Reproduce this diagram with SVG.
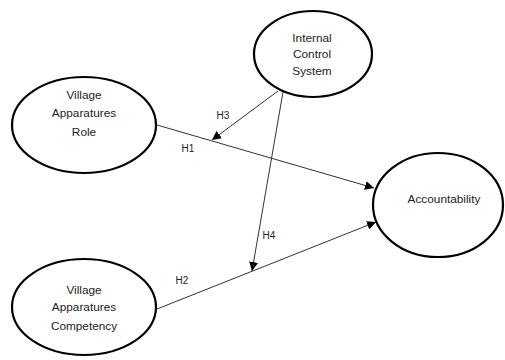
<svg xmlns="http://www.w3.org/2000/svg" width="505" height="360" viewBox="0 0 505 360">
<defs>
<style>
.node ellipse{fill:#fff;stroke:#000;stroke-width:2.2}
.node text{font-family:"Liberation Sans",Arial,sans-serif;font-size:11.8px;fill:#222;text-anchor:middle}
.edges line{stroke:#333;stroke-width:1}
.lbl{font-family:"Liberation Sans",Arial,sans-serif;font-size:10px;fill:#222;text-anchor:middle}
</style>
<marker id="arr" viewBox="0 0 10 10" refX="10" refY="5" markerWidth="9" markerHeight="9" markerUnits="userSpaceOnUse" orient="auto">
<path d="M0,0 L10,5 L0,10 Z" fill="#000"/>
</marker>
</defs>
<rect width="505" height="360" fill="#fff"/>
<g class="edges">
<line x1="157" y1="125" x2="374" y2="188" marker-end="url(#arr)"/>
<line x1="278" y1="91" x2="212" y2="140" marker-end="url(#arr)"/>
<line x1="283" y1="92" x2="252" y2="271" marker-end="url(#arr)"/>
<line x1="157" y1="309" x2="376" y2="222" marker-end="url(#arr)"/>
<text class="lbl" x="223" y="119">H3</text>
<text class="lbl" x="188" y="152">H1</text>
<text class="lbl" x="269" y="239">H4</text>
<text class="lbl" x="182" y="284">H2</text>
</g>
<g id="role" class="node">
<ellipse cx="84" cy="125" rx="72" ry="48"/>
<text x="84" y="99">Village</text>
<text x="84" y="117">Apparatures</text>
<text x="84" y="136">Role</text>
</g>
<g id="ics" class="node">
<ellipse cx="313" cy="54" rx="59" ry="43"/>
<text x="312" y="42">Internal</text>
<text x="312" y="58">Control</text>
<text x="312" y="75">System</text>
</g>
<g id="accountability" class="node">
<ellipse cx="438" cy="205" rx="65" ry="52"/>
<text x="444" y="203">Accountability</text>
</g>
<g id="competency" class="node">
<ellipse cx="84" cy="307" rx="72" ry="48"/>
<text x="84" y="294">Village</text>
<text x="84" y="311">Apparatures</text>
<text x="84" y="330">Competency</text>
</g>
</svg>
